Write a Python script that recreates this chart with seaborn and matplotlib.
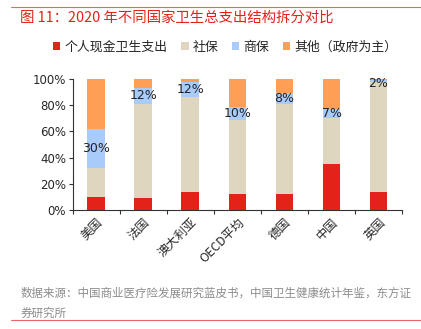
import numpy as np
import pandas as pd
import matplotlib
matplotlib.use("Agg")
import matplotlib.pyplot as plt
import seaborn as sns

countries = ["美国", "法国", "澳大利亚", "OECD平均", "德国", "中国", "英国"]
oop = [10.0, 9.0, 13.5, 12.2, 12.2, 35.0, 13.5]          # 个人现金卫生支出
social = [22.0, 72.0, 72.5, 56.5, 69.0, 35.0, 84.5]      # 社保
private = [30.0, 12.0, 12.0, 10.0, 8.0, 7.0, 1.5]        # 商保
other = [38.0, 7.0, 2.0, 21.3, 10.8, 23.0, 0.5]          # 其他（政府为主）
blue_labels = ["30%", "12%", "12%", "10%", "8%", "7%", "2%"]

series_names = ["个人现金卫生支出", "社保", "商保", "其他（政府为主）"]
colors = ["#E3231A", "#DED6BF", "#A9CBFA", "#FF9E55"]

sns.set_theme(style="white")
plt.rcParams['font.family'] = ['Noto Sans CJK SC', 'DejaVu Sans']

df = pd.DataFrame({"country": countries, "oop": oop, "social": social,
                   "private": private, "other": other})
df["c1"] = df["oop"]
df["c2"] = df["c1"] + df["social"]
df["c3"] = df["c2"] + df["private"]
df["c4"] = df["c3"] + df["other"]

fig = plt.figure(figsize=(4.21, 3.29), dpi=100)
ax = fig.add_axes([0.173, 0.362, 0.782, 0.398])

for col, color in zip(["c4", "c3", "c2", "c1"], colors[::-1]):
    sns.barplot(data=df, x="country", y=col, color=color, width=0.38,
                ax=ax, saturation=1, edgecolor="none", linewidth=0)

for i, lab in enumerate(blue_labels):
    yc = df["c2"][i] + df["private"][i] / 2
    if i == len(blue_labels) - 1:
        yc -= 2.5
    ax.text(i, yc, lab, ha="center", va="center", fontsize=9,
            color="#222222", family="DejaVu Sans")

ax.set_ylim(0, 100)
ax.set_xlim(-0.5, 6.5)
ax.set_yticks([0, 20, 40, 60, 80, 100])
ax.set_yticklabels(["0%", "20%", "40%", "60%", "80%", "100%"], fontsize=8.5,
                   family="DejaVu Sans")
ax.set_xticks(range(len(countries)))
ax.set_xticklabels(countries, rotation=45, ha="right", rotation_mode="anchor",
                   fontsize=8.8)
ax.tick_params(axis="x", length=0, pad=4)
ax.set_xticks(np.arange(-0.5, 7.0, 1.0), minor=True)
ax.tick_params(axis="x", which="minor", length=3, direction="out", width=0.8,
               color="#333333", bottom=True)
ax.tick_params(axis="y", length=3, direction="out", width=0.8, color="#333333",
               left=True, pad=2)
ax.set_xlabel("")
ax.set_ylabel("")
for s in ["top", "right"]:
    ax.spines[s].set_visible(False)
for s in ["left", "bottom"]:
    ax.spines[s].set_color("#333333")
    ax.spines[s].set_linewidth(0.8)

# legend
from matplotlib.patches import Patch
handles = [Patch(facecolor=c, edgecolor="none") for c in colors]
fig.legend(handles, series_names, loc="center", bbox_to_anchor=(0.535, 0.857),
           ncol=4, frameon=False, fontsize=9.3, handlelength=0.55,
           handleheight=0.55, handletextpad=0.3, columnspacing=1.1)

# title and decorations
fig.text(0.048, 0.945, "图 11：2020 年不同国家卫生总支出结构拆分对比",
         fontsize=10.4, color="#E3231A", va="center", ha="left")
fig.add_artist(plt.Line2D([0.026, 1.0], [0.978, 0.978], color="#E8665F",
                          linewidth=0.8, transform=fig.transFigure))
fig.text(0.048, 0.108,
         "数据来源：中国商业医疗险发展研究蓝皮书，中国卫生健康统计年鉴，东方证",
         fontsize=8.3, color="#8C8C8C", va="center", ha="left")
fig.text(0.048, 0.048, "券研究所", fontsize=8.3, color="#8C8C8C",
         va="center", ha="left")
fig.add_artist(plt.Line2D([0.026, 1.0], [0.027, 0.027], color="#E8665F",
                          linewidth=0.8, transform=fig.transFigure))

fig.savefig("out.png", dpi=100, facecolor="white")
